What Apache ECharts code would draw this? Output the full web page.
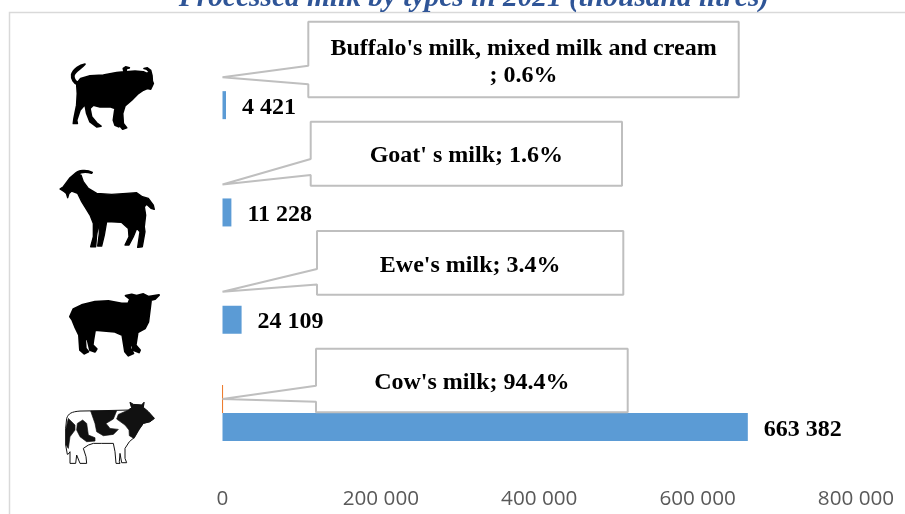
<!DOCTYPE html>
<html><head><meta charset="utf-8">
<style>html,body{margin:0;padding:0;background:#fff}#c{width:905px;height:514px}</style>
<script src="https://cdn.jsdelivr.net/npm/echarts@6/dist/echarts.min.js"></script>
</head><body><div id="c"></div>
<script>
const categories = ["Cow's milk", "Ewe's milk", "Goat' s milk", "Buffalo's milk, mixed milk and cream"];
const volumes = [663382, 24109, 11228, 4421];
const shares = [94.4, 3.4, 1.6, 0.6];
const ticks = [0, 200000, 400000, 600000, 800000];
const calloutText = ["Cow's milk; 94.4%", "Ewe's milk; 3.4%", "Goat' s milk; 1.6%", "Buffalo's milk, mixed milk and cream\n; 0.6%"];
const titleText = 'Processed milk by types in 2021 (thousand litres)';

// callout geometry: pixel offsets relative to the tip anchored on the axis scale
const calloutBoxes = [
  {l:93.5, t:-50.3, r:405.2, b:13.3, j1:-13.3, j2:2.6},
  {l:94.5, t:-60.7, r:400.8, b:3, j1:-22.7, j2:-7.3},
  {l:88.2, t:-62.7, r:399.5, b:1.3, j1:-25.4, j2:-9.4},
  {l:85.8, t:-55.3, r:516.2, b:20, j1:-11.3, j2:7}
];
const fmt = v => String(v).replace(/\B(?=(\d{3})+$)/g, ' ');
const serif = '"Liberation Serif","Times New Roman",serif';

const buffalo = 'M75,27 C60,30 40,40 35,58 C33,72 42,84 52,88 L55,82 C45,78 40,68 42,60 C47,48 62,42 75,27 Z M50,85 L62,70 L90,62 L130,60 L170,52 L192,50 L190,40 L197,35 L208,38 L200,40 L197,50 L225,48 L250,50 L262,55 L268,50 L260,42 L252,40 L262,38 L272,46 L276,62 L277,78 L280,85 L272,102 L262,100 L250,105 L235,115 L215,135 L195,152 L188,175 L190,205 L200,218 L188,222 L178,210 L176,215 L165,210 L160,195 L165,160 L150,155 L120,155 L100,150 L90,160 L95,185 L110,203 L123,213 L110,215 L90,200 L80,175 L75,148 L60,165 L50,195 L52,205 L40,205 L42,190 L50,150 L52,115 Z';
const goat = 'M60,25 C70,15 95,12 112,22 L110,25 C95,20 80,20 68,28 Z M15,72 L25,65 L45,38 L60,25 L78,30 L85,50 L100,70 L125,85 L170,88 L215,85 L245,83 L262,95 L280,100 L295,120 L298,133 L288,130 L275,118 L268,125 L272,150 L268,185 L270,200 L262,245 L248,247 L255,200 L245,190 L235,215 L222,240 L210,240 L222,215 L220,190 L200,172 L170,170 L155,170 L148,210 L140,243 L128,243 L133,205 L132,170 L125,210 L122,245 L107,245 L115,215 L115,175 L105,150 L80,110 L68,85 L50,78 L42,85 L38,98 L34,85 L28,80 Z';
const sheep = 'M15,95 L25,72 L50,60 L90,50 L130,48 L170,55 L190,55 L195,42 L182,32 L200,28 L215,32 L235,27 L250,35 L282,30 L270,42 L258,45 L255,70 L250,110 L240,130 L218,142 L212,180 L225,195 L222,202 L205,195 L195,160 L195,188 L205,205 L190,212 L180,200 L172,150 L150,140 L90,135 L85,165 L83,180 L95,192 L90,200 L75,195 L68,165 L60,155 L62,190 L70,200 L58,206 L45,195 L42,150 L30,125 L22,105 Z';
const cowOutline = 'M20,70 C25,55 35,50 60,48 L120,47 L205,45 L215,38 L210,22 L220,28 L245,30 L252,22 L250,37 L265,50 L283,70 L270,80 L250,85 L235,105 L222,128 L208,140 L195,160 L195,190 L200,203 L185,203 L180,175 L178,200 L180,205 L168,205 L165,170 L160,145 L125,145 L100,145 L85,150 L70,160 L78,185 L80,205 L60,205 L50,180 L47,205 L30,205 L30,170 L27,175 L22,178 L17,150 L17,100 Z';
const cowPatches = 'M215,38 L210,22 L220,28 L245,30 L252,22 L250,37 L265,50 L283,70 L270,80 L250,85 L238,103 L222,130 L208,122 L207,105 L195,90 L170,72 L175,58 L205,45 Z M92,48 L170,47 L160,72 L138,85 L150,100 L175,103 L160,118 L130,122 L110,110 L105,85 Z M25,70 L45,90 L45,105 L30,125 L25,160 L18,150 L18,100 Z M52,85 L68,75 L80,85 L85,120 L105,128 L105,138 L80,140 L60,125 L50,105 Z';

// animal silhouettes, one per category: offset from the category's axis position
const icons = [
  {dx:-162.5, dy:-18, parts:[{d:cowOutline, fill:'#fff', stroke:'#111', lineWidth:3},{d:cowPatches, fill:'#111', stroke:'#111', lineWidth:2}]},
  {dx:-157.5, dy:-20.7, parts:[{d:sheep, fill:'#000', stroke:'#000', lineWidth:6}]},
  {dx:-167.5, dy:-33.4, parts:[{d:goat, fill:'#000', stroke:'#000', lineWidth:4}]},
  {dx:-162.5, dy:-36, parts:[{d:buffalo, fill:'#000', stroke:'#000', lineWidth:5}]}
];

const chart = echarts.init(document.getElementById('c'), null, {renderer:'canvas'});
chart.setOption({
  animation:false,
  backgroundColor:'#fff',
  title:{text:titleText, left:469, textAlign:'center', top:-21,
    textStyle:{fontFamily:serif, fontSize:29.4, fontWeight:'bold', fontStyle:'italic', color:'#2f5597'}},
  graphic:[
    {type:'rect', shape:{x:9.5,y:12.5,width:1000,height:600}, style:{fill:'none',stroke:'#d9d9d9',lineWidth:1.5}, silent:true, z:-1}
  ],
  grid:{left:222.5, right:49, top:37.5, height:429.2, containLabel:false},
  xAxis:{type:'value', min:ticks[0], max:ticks[ticks.length-1], interval:ticks[1]-ticks[0],
    axisLine:{show:false}, axisTick:{show:false}, splitLine:{show:false},
    axisLabel:{formatter:fmt, fontFamily:'"Open Sans"', fontSize:20.7, color:'#595959', margin:22, hideOverlap:false}},
  yAxis:{type:'category', data:categories, axisLine:{show:false}, axisTick:{show:false}, axisLabel:{show:false}},
  series:[
    {type:'bar', name:'Share', data:shares.map((v,i)=>({value:v,
        itemStyle:i===0?{color:'#ed7d31',borderColor:'#ed7d31',borderWidth:1}:{color:'#ed7d31'}})),
      barWidth:28, barGap:0},
    {type:'bar', name:'Volume', data:volumes, barWidth:28, barGap:0, itemStyle:{color:'#5b9bd5'},
      label:{show:true, position:'right', distance:16, offset:[0,2.5], formatter:p=>fmt(p.value),
        fontFamily:serif, fontSize:24, fontWeight:'bold', color:'#000'}},
    {type:'custom', name:'Icons', coordinateSystem:'cartesian2d', z:4, clip:false,
      data:categories.map((c,i)=>[0,i]),
      encode:{x:0,y:1},
      renderItem:(params,api)=>{
        const i = api.value(1);
        const p = api.coord([0, i]);
        const ic = icons[i];
        return {type:'group', children:ic.parts.map(part=>({type:'path',
          x:p[0]+ic.dx, y:p[1]+ic.dy, scaleX:1/3, scaleY:1/3,
          shape:{pathData:part.d},
          style:{fill:part.fill, stroke:part.stroke||null, lineWidth:part.lineWidth||0, lineJoin:'round'}}))};
      }},
    {type:'custom', name:'Callouts', coordinateSystem:'cartesian2d', z:5, clip:false,
      data:categories.map((c,i)=>[0,i]),
      encode:{x:0,y:1},
      renderItem:(params,api)=>{
        const i = api.value(1);
        const p = api.coord([0, i]);
        const tipX = p[0], tipY = p[1]-14;
        const b = calloutBoxes[i];
        return {type:'group', children:[
          {type:'polygon', shape:{points:[
            [tipX,tipY],[tipX+b.l,tipY+b.j1],[tipX+b.l,tipY+b.t],[tipX+b.r,tipY+b.t],
            [tipX+b.r,tipY+b.b],[tipX+b.l,tipY+b.b],[tipX+b.l,tipY+b.j2]]},
            style:{fill:'#fff',stroke:'#bfbfbf',lineWidth:2,lineJoin:'bevel'}},
          {type:'text', style:{text:calloutText[i], x:tipX+(b.l+b.r)/2, y:tipY+(b.t+b.b)/2+2.5,
            align:'center', verticalAlign:'middle', lineHeight:27,
            fontFamily:serif, fontSize:24, fontWeight:'bold', fill:'#000'}}
        ]};
      }}
  ]
});
</script></body></html>
